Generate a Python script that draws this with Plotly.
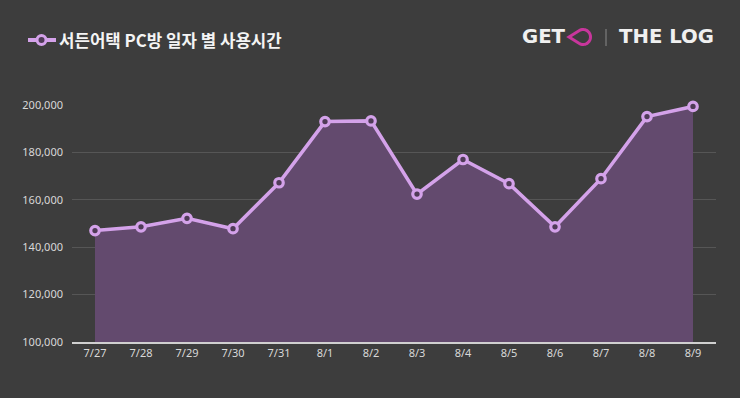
import math
import plotly.graph_objects as go

dates = ["7/27", "7/28", "7/29", "7/30", "7/31", "8/1", "8/2", "8/3", "8/4", "8/5", "8/6", "8/7", "8/8", "8/9"]
usage = [147000, 148600, 152200, 147800, 167200, 193000, 193300, 162400, 177000, 166800, 148600, 168900, 195100, 199400]
y_ticks = [100000, 120000, 140000, 160000, 180000, 200000]
title_text = "서든어택 PC방 일자 별 사용시간"

BG = "#3d3d3d"
LINE = "#d4a2ea"
FILL = "#634a6e"
CENTER = "#4f3b57"

fig = go.Figure()
fig.add_trace(go.Scatter(
    x=list(range(len(dates))), y=usage,
    mode="lines+markers",
    fill="tozeroy", fillcolor=FILL,
    line=dict(color=LINE, width=3.5),
    marker=dict(size=8.5, color=CENTER, line=dict(color=LINE, width=3.2)),
    cliponaxis=False, hoverinfo="x+y", showlegend=False,
))

L, R, T, B = 72, 24, 105, 56
fig.update_layout(
    width=740, height=398,
    margin=dict(l=L, r=R, t=T, b=B),
    paper_bgcolor=BG, plot_bgcolor=BG,
    font=dict(family="Noto Sans, Noto Sans CJK KR, sans-serif", color="#d8d8d8", size=11),
    xaxis=dict(
        range=[-0.5, len(dates) - 0.5],
        tickmode="array", tickvals=list(range(len(dates))), ticktext=dates,
        showgrid=False, zeroline=False,
        showline=True, linecolor="#d0d0d0", linewidth=1.5,
        ticks="", ticklen=0, tickfont=dict(size=11, color="#d8d8d8"),
    ),
    yaxis=dict(
        range=[100000, 200000],
        tickmode="array", tickvals=y_ticks,
        ticktext=[f"{v:,}" for v in y_ticks],
        showgrid=True, gridcolor="#565656", gridwidth=1,
        zeroline=False, showline=False, ticks="",
        ticklabelstandoff=8,
        tickfont=dict(size=11, color="#d8d8d8"),
    ),
)

# title "legend" icon (pixel offsets relative to plot area top-left)
fig.add_shape(type="line", xref="paper", yref="paper", xsizemode="pixel", ysizemode="pixel",
              xanchor=0, yanchor=1, x0=28 - L, x1=56 - L, y0=65, y1=65,
              line=dict(color=LINE, width=4))
fig.add_shape(type="circle", xref="paper", yref="paper", xsizemode="pixel", ysizemode="pixel",
              xanchor=0, yanchor=1, x0=37 - L, x1=46 - L, y0=60.5, y1=69.5,
              fillcolor=CENTER, line=dict(color=LINE, width=3))
fig.add_annotation(text=f"<b>{title_text}</b>", xref="paper", yref="paper",
                   x=(57 - L) / 644, y=(342 - 40) / 237, xanchor="left", yanchor="middle",
                   showarrow=False, font=dict(size=16.8, color="#f4f4f4",
                                              family="Noto Sans CJK KR, Noto Sans, sans-serif"))

# logo
logo_font = dict(size=19.7, color="#f0f0f0", family="DejaVu Sans, sans-serif")
fig.add_annotation(text="<b>GET</b>", xref="paper", yref="paper",
                   x=(520 - L) / 644, y=(342 - 37) / 237, xanchor="left", yanchor="middle",
                   showarrow=False, font=logo_font)
fig.add_annotation(text="<b>THE LOG</b>", xref="paper", yref="paper",
                   x=1, y=(342 - 37) / 237, xanchor="right", yanchor="middle",
                   showarrow=False, font=logo_font)
fig.add_shape(type="line", xref="paper", yref="paper", xsizemode="pixel", ysizemode="pixel",
              xanchor=1, yanchor=1, x0=606 - 716, x1=606 - 716, y0=105 - 29, y1=105 - 46,
              line=dict(color="#8a8a8a", width=1))
# teardrop "O"
cx, cy, r = 583 - 716, 105 - 37, 7.5
tip = (569 - 716, 105 - 37)
th = math.acos(r / (cx - tip[0]))
a0 = math.pi - th
a1 = -math.pi + th + 2 * math.pi
pts = []
n = 40
for i in range(n + 1):
    a = a0 - (a0 - (a1 - 2 * math.pi)) * i / n
    pts.append((cx + r * math.cos(a), cy + r * math.sin(a)))
path = f"M {tip[0]},{tip[1]} " + " ".join(f"L {x:.2f},{y:.2f}" for x, y in pts) + " Z"
fig.add_shape(type="path", xref="paper", yref="paper", xsizemode="pixel", ysizemode="pixel",
              xanchor=1, yanchor=1, path=path, line=dict(color="#c8369c", width=3))

fig.write_html("out.html", config={"displayModeBar": False},
               post_script="document.body.style.margin='0';document.body.style.padding='0';")
